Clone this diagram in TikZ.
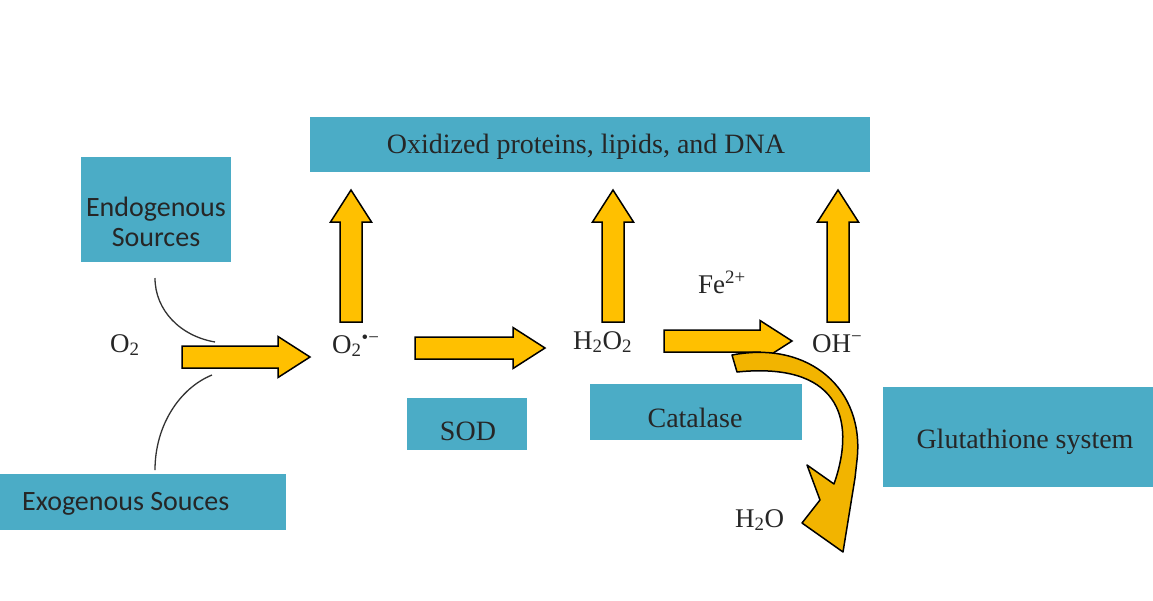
\documentclass[tikz,border=0pt]{standalone}
\usepackage{fontspec}
\setmainfont{Liberation Serif}
\newfontfamily\carlito{Carlito}
\usetikzlibrary{calc}
\definecolor{boxblue}{HTML}{4BACC6}
\definecolor{gold}{HTML}{FFC000}
\definecolor{goldd}{HTML}{F2B400}
\newcommand\fatarrow[2]{%
  \draw[fat] let \p1=(#1),\p2=(#2),
    \n1={veclen(\x2-\x1,\y2-\y1)},\n2={atan2(\y2-\y1,\x2-\x1)} in
    [shift={(\p1)},rotate=\n2]
    (0pt,-11pt) -- (\n1-32pt,-11pt) -- (\n1-32pt,-20.5pt) -- (\n1,0pt)
    -- (\n1-32pt,20.5pt) -- (\n1-32pt,11pt) -- (0pt,11pt) -- cycle;}
\begin{document}
\begin{tikzpicture}[x=1pt,y=-1pt,
  box/.style={fill=boxblue, draw=none, inner sep=0pt},
  serif/.style={font=\fontsize{28}{32}\selectfont, inner sep=0pt, text=black!85},
  chem/.style={font=\fontsize{27}{30}\selectfont, inner sep=0pt, text=black!85},
  sans/.style={font=\carlito\fontsize{28}{30}\selectfont, inner sep=0pt, text=black!85},
  fat/.style={fill=gold, draw=black, line width=1.5pt, line join=miter},
  conn/.style={draw=black!80, line width=1.3pt}]
\useasboundingbox (0,0) rectangle (1153,600);
\fill[white] (0,0) rectangle (1153,600);

% boxes
\node[box, minimum width=560, minimum height=55] (ox) at (590,144.5) {};
\node[serif, anchor=base] (oxt) at (586,153) {Oxidized proteins, lipids, and DNA};
\node[box, minimum width=150, minimum height=105] (endo) at (156,209.5) {};
\node[sans, anchor=base] (endot1) at (156,216) {Endogenous};
\node[sans, anchor=base] (endot2) at (156,246) {Sources};
\node[box, minimum width=286, minimum height=56] (exo) at (143,502) {};
\node[sans, anchor=base west] (exot) at (22,510) {Exogenous Souces};
\node[box, minimum width=120, minimum height=52] (sod) at (467,424) {};
\node[serif, anchor=base] (sodt) at (468,440) {SOD};
\node[box, minimum width=212, minimum height=56] (cat) at (696,412) {};
\node[serif, anchor=base] (catt) at (695,427) {Catalase};
\node[box, minimum width=270, minimum height=100] (glu) at (1018,437) {};
\node[serif, anchor=base] (glut) at (1025,448) {Glutathione system};

% chemical labels
\node[chem, anchor=base west] (o2) at (110,352) {O\textsubscript{2}};
\node[chem, anchor=base west] (sup) at (332,353) {O\textsubscript{2}\textsuperscript{•−}};
\node[chem, anchor=base west] (h2o2) at (573,349) {H\textsubscript{2}O\textsubscript{2}};
\node[chem, anchor=base west] (oh) at (812,352) {OH\textsuperscript{−}};
\node[chem, anchor=base west] (fe) at (698,293) {Fe\textsuperscript{2+}};
\node[chem, anchor=base west] (h2o) at (735,527) {H\textsubscript{2}O};

% arrow end points
\coordinate (a1s) at (182,357); \coordinate (a1e) at (310,357);
\coordinate (a2s) at (415,348); \coordinate (a2e) at (545,348);
\coordinate (a3s) at (664,341); \coordinate (a3e) at (792,341);
\coordinate (v1s) at (351,322); \coordinate (v1e) at (351,190);
\coordinate (v2s) at (613,322); \coordinate (v2e) at (613,190);
\coordinate (v3s) at (838,322); \coordinate (v3e) at (838,190);

\fatarrow{a1s}{a1e}
\fatarrow{a2s}{a2e}
\fatarrow{a3s}{a3e}
\fatarrow{v1s}{v1e}
\fatarrow{v2s}{v2e}
\fatarrow{v3s}{v3e}

% curved arrow to H2O
\filldraw[fill=goldd, draw=black, line width=1.5pt, line join=round]
  (732,355) .. controls (810,340) and (865,390) .. (857,460)
  -- (855,478) -- (843,552) -- (802,523) -- (820,500) -- (807,465)
  -- (834,484) .. controls (858,415) and (835,362) .. (737,372) -- cycle;

% source connectors
\coordinate (c1s) at (155,278); \coordinate (c1e) at (215,342);
\draw[conn] (c1s) .. controls (155,310) and (180,336) .. (c1e);
\coordinate (c2s) at (212,375); \coordinate (c2e) at (155,470);
\draw[conn] (c2s) .. controls (180,388) and (155,425) .. (c2e);
\end{tikzpicture}
\end{document}
